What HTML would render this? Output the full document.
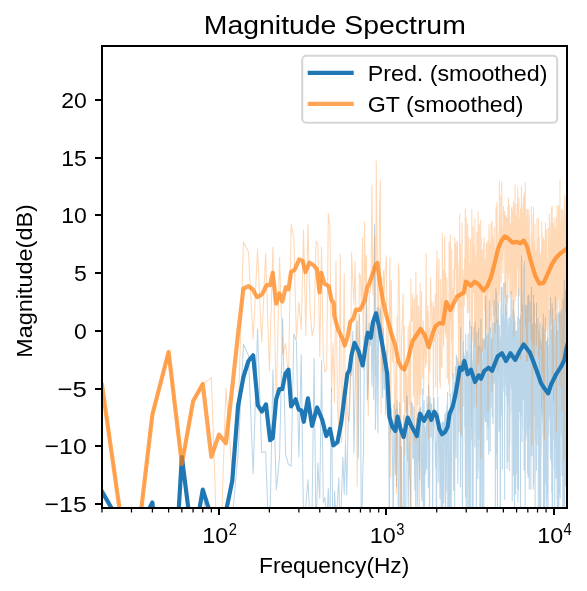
<!DOCTYPE html><html><head><meta charset="utf-8"><style>html,body{margin:0;padding:0;background:#fff;}svg{display:block;will-change:transform;}text{font-family:"Liberation Sans", sans-serif;fill:#000;}</style></head><body><svg width="587" height="591" viewBox="0 0 587 591"><rect x="0" y="0" width="587" height="591" fill="#fff"/><defs><clipPath id="ax"><rect x="102" y="46" width="465" height="462"/></clipPath></defs><g clip-path="url(#ax)"><path d="M102.00 491.50 L131.47 543.00 L152.39 502.50 L168.61 680.00 L181.86 457.00 L193.06 546.00 L202.77 489.50 L211.33 563.57 L218.99 609.94 L225.92 600.73 L232.25 518.58 L238.06 454.31 L243.45 344.20 L248.47 355.40 L253.16 473.84 L257.56 328.90 L261.72 452.57 L265.65 451.69 L269.38 554.24 L272.92 369.80 L276.31 489.92 L279.54 457.31 L282.63 318.60 L285.60 454.46 L288.45 464.32 L291.19 466.03 L293.84 334.00 L296.39 341.10 L298.85 456.97 L301.23 354.40 L303.54 526.51 L305.78 505.79 L307.95 479.75 L310.06 521.32 L312.10 509.94 L314.10 358.50 L316.03 534.63 L317.92 462.87 L319.76 498.71 L321.56 360.60 L323.31 502.67 L325.02 497.78 L326.69 523.58 L328.32 488.34 L329.92 536.25 L331.49 388.20 L333.02 556.51 L334.52 491.05 L335.98 520.38 L337.42 502.20 L338.83 477.65 L340.22 543.50 L341.58 493.38 L342.91 457.35 L344.22 494.23 L345.51 441.69 L346.77 494.67 L348.02 427.19 L349.24 408.73 L350.44 373.35 L351.62 375.46 L352.78 331.15 L353.93 452.84 L355.06 391.35 L356.17 332.88 L357.26 320.67 L358.34 457.85 L359.40 314.73 L360.44 368.94 L361.47 568.41 L362.49 484.54 L363.49 450.19 L364.48 336.08 L365.46 338.60 L366.42 298.44 L367.37 399.90 L368.31 382.31 L369.23 323.36 L370.15 345.83 L371.05 324.53 L371.94 385.90 L372.82 327.40 L373.70 399.32 L374.56 224.70 L375.41 429.60 L376.25 394.26 L377.08 307.89 L377.90 432.76 L378.71 306.53 L379.51 319.64 L380.31 308.45 L381.09 325.50 L381.87 342.79 L382.64 397.43 L383.40 328.62 L384.16 389.60 L384.90 356.94 L385.64 414.99 L386.37 351.47 L387.09 376.97 L387.81 370.43 L388.52 373.85 L389.22 540.19 L389.92 406.32 L390.60 432.43 L391.29 408.22 L391.96 420.73 L392.63 469.65 L393.30 536.63 L393.96 404.28 L394.61 450.51 L395.25 475.04 L395.89 409.09 L396.53 486.57 L397.16 400.60 L397.78 420.34 L398.40 533.46 L399.01 529.07 L399.62 402.51 L400.23 423.33 L400.82 507.58 L401.42 446.59 L402.01 538.07 L402.59 506.79 L403.17 531.05 L403.74 415.30 L404.31 433.52 L404.88 541.10 L405.44 524.66 L406.00 496.90 L406.55 395.81 L407.10 396.40 L407.64 410.86 L408.18 514.90 L408.72 467.99 L409.25 426.80 L409.78 477.41 L410.31 478.81 L410.83 550.49 L411.35 401.31 L411.86 414.02 L412.37 403.18 L412.88 457.75 L413.38 458.87 L413.88 407.12 L414.37 451.97 L414.87 489.98 L415.36 425.73 L415.84 534.36 L416.33 460.09 L416.81 418.19 L417.28 440.51 L417.76 530.56 L418.23 413.70 L418.69 461.32 L419.16 409.27 L419.62 479.25 L420.08 420.94 L420.53 407.31 L420.99 411.93 L421.44 486.57 L421.88 500.46 L422.33 445.57 L422.77 389.04 L423.21 520.34 L423.65 439.17 L424.08 400.42 L424.51 544.63 L424.94 426.77 L425.37 473.77 L425.79 453.29 L426.21 423.27 L426.63 469.27 L427.05 396.36 L427.46 430.86 L427.87 404.04 L428.28 487.19 L428.69 385.39 L429.10 414.40 L429.50 547.25 L429.90 397.08 L430.30 402.52 L430.69 406.02 L431.09 437.08 L431.48 404.12 L431.87 414.39 L432.26 410.83 L432.64 535.22 L433.03 442.58 L433.41 439.62 L433.79 408.70 L434.17 397.67 L434.54 413.68 L434.91 416.15 L435.29 449.62 L435.66 467.16 L436.02 441.33 L436.39 562.78 L436.75 449.01 L437.12 410.95 L437.48 428.88 L437.84 396.36 L438.19 482.32 L438.55 412.90 L438.90 436.16 L439.26 427.85 L439.61 460.68 L439.95 498.74 L440.30 428.59 L440.65 422.47 L440.99 448.70 L441.33 580.68 L441.67 536.11 L442.01 429.66 L442.35 421.79 L442.69 567.81 L443.02 424.58 L443.35 422.06 L443.68 502.69 L444.01 422.57 L444.34 441.92 L444.67 424.96 L444.99 413.96 L445.32 516.43 L445.64 530.91 L445.96 411.76 L446.28 491.19 L446.60 444.03 L446.91 405.28 L447.23 422.47 L447.54 392.48 L447.86 562.05 L448.17 538.94 L448.48 460.50 L448.79 414.25 L449.09 537.37 L449.40 583.38 L449.70 461.44 L450.01 449.87 L450.31 394.01 L450.61 457.51 L450.91 643.11 L451.21 504.75 L451.51 459.97 L451.80 405.06 L452.10 401.41 L452.39 391.79 L452.68 414.32 L452.98 373.61 L453.27 459.48 L453.55 490.48 L453.84 413.85 L454.13 444.13 L454.42 382.33 L454.70 511.79 L454.98 401.26 L455.27 366.33 L455.55 410.89 L455.83 423.85 L456.11 457.68 L456.38 355.16 L456.66 390.89 L456.94 357.15 L457.21 358.63 L457.48 358.72 L457.76 483.51 L458.03 459.24 L458.30 363.71 L458.57 422.47 L458.84 431.48 L459.11 361.33 L459.37 383.67 L459.64 410.55 L459.90 406.39 L460.17 413.28 L460.43 486.84 L460.69 327.44 L460.95 355.75 L461.21 436.42 L461.47 424.22 L461.73 361.30 L461.99 380.92 L462.24 494.07 L462.50 573.22 L462.75 386.50 L463.01 340.93 L463.26 362.24 L463.51 356.77 L463.76 353.25 L464.01 364.16 L464.26 374.22 L464.51 356.55 L464.76 427.07 L465.01 413.70 L465.25 444.05 L465.50 497.25 L465.74 334.42 L465.99 390.49 L466.23 601.36 L466.47 405.11 L466.71 351.17 L466.95 423.14 L467.19 424.04 L467.43 352.76 L467.67 472.70 L467.91 632.97 L468.14 333.78 L468.38 441.12 L468.61 372.95 L468.85 369.26 L469.08 439.58 L469.31 516.72 L469.54 490.90 L469.78 321.09 L470.01 393.00 L470.24 585.96 L470.46 385.18 L470.69 354.68 L470.92 374.40 L471.15 350.66 L471.37 326.27 L471.60 351.93 L471.82 426.15 L472.05 403.45 L472.27 677.55 L472.49 373.13 L472.72 364.89 L472.94 359.86 L473.16 523.52 L473.38 351.71 L473.60 357.44 L473.81 327.02 L474.03 407.27 L474.25 370.62 L474.47 338.33 L474.68 421.88 L474.90 447.02 L475.11 322.07 L475.33 355.60 L475.54 365.81 L475.75 372.43 L475.97 374.20 L476.18 393.48 L476.39 563.07 L476.60 386.44 L476.81 356.28 L477.02 332.22 L477.23 436.83 L477.43 439.01 L477.64 363.66 L477.85 478.46 L478.05 347.18 L478.26 470.79 L478.47 383.64 L478.67 328.14 L478.87 413.76 L479.08 438.97 L479.28 359.83 L479.48 345.70 L479.68 366.60 L479.88 531.77 L480.09 408.91 L480.29 571.70 L480.48 350.27 L480.68 513.51 L480.88 319.12 L481.08 381.67 L481.28 427.40 L481.47 346.47 L481.67 367.96 L481.87 360.51 L482.06 540.16 L482.26 368.01 L482.45 617.89 L482.64 443.65 L482.84 339.09 L483.03 347.53 L483.22 389.40 L483.41 450.21 L483.60 345.99 L483.79 508.27 L483.98 339.72 L484.17 347.29 L484.36 416.79 L484.55 345.26 L484.74 369.34 L484.93 337.87 L485.11 380.50 L485.30 421.47 L485.49 312.14 L485.67 296.79 L485.86 323.49 L486.04 421.58 L486.23 331.89 L486.41 370.22 L486.59 387.99 L486.78 336.10 L486.96 418.40 L487.14 439.88 L487.32 405.95 L487.50 355.73 L487.68 347.70 L487.86 426.20 L488.04 345.97 L488.22 333.71 L488.40 425.74 L488.58 361.87 L488.76 454.47 L488.94 391.17 L489.11 343.04 L489.29 300.63 L489.47 340.00 L489.64 405.90 L489.82 349.48 L489.99 391.15 L490.17 451.23 L490.34 332.58 L490.51 328.10 L490.69 347.67 L490.86 407.25 L491.03 371.51 L491.20 346.13 L491.38 383.09 L491.55 350.31 L491.72 338.78 L491.89 385.63 L492.06 348.34 L492.23 416.61 L492.40 355.09 L492.57 370.15 L492.74 323.28 L492.90 411.91 L493.07 423.86 L493.24 357.07 L493.40 377.14 L493.57 328.11 L493.74 352.87 L493.90 383.51 L494.07 300.08 L494.23 381.21 L494.40 351.19 L494.56 334.56 L494.73 338.95 L494.89 322.87 L495.05 371.68 L495.22 340.76 L495.38 515.03 L495.54 332.71 L495.70 388.14 L495.86 288.15 L496.02 469.06 L496.19 306.01 L496.35 292.38 L496.51 376.88 L496.67 415.55 L496.82 402.24 L496.98 453.74 L497.14 415.15 L497.30 405.03 L497.46 522.07 L497.62 319.69 L497.77 367.06 L497.93 368.51 L498.09 358.00 L498.24 302.85 L498.40 322.69 L498.55 376.23 L498.71 355.85 L498.86 405.75 L499.02 431.23 L499.17 403.83 L499.33 325.72 L499.48 365.51 L499.63 430.57 L499.79 398.19 L499.94 362.22 L500.09 337.17 L500.24 522.68 L500.39 557.14 L500.55 473.33 L500.70 355.35 L500.85 416.03 L501.00 307.96 L501.15 322.01 L501.30 409.00 L501.45 287.05 L501.60 413.28 L501.74 355.13 L501.89 315.29 L502.04 347.69 L502.19 424.05 L502.34 432.71 L502.48 468.95 L502.63 370.47 L502.78 327.75 L502.92 287.45 L503.07 333.49 L503.22 351.21 L503.36 283.18 L503.51 348.45 L503.65 316.94 L503.80 376.81 L503.94 391.10 L504.08 343.81 L504.23 381.19 L504.37 320.34 L504.52 338.21 L504.66 499.43 L504.80 330.90 L504.94 282.84 L505.09 352.51 L505.23 304.09 L505.37 367.97 L505.51 305.16 L505.65 352.64 L505.79 372.86 L505.93 384.95 L506.07 312.21 L506.21 396.03 L506.35 329.91 L506.49 314.25 L506.63 350.18 L506.77 331.37 L506.91 294.95 L507.05 468.56 L507.18 435.68 L507.32 422.89 L507.46 336.09 L507.60 349.80 L507.73 341.64 L507.87 461.97 L508.01 362.38 L508.14 318.79 L508.28 337.31 L508.42 335.62 L508.55 403.59 L508.69 370.32 L508.82 369.03 L508.96 381.27 L509.09 325.91 L509.22 351.20 L509.36 470.56 L509.49 345.36 L509.63 317.22 L509.76 443.90 L509.89 354.58 L510.02 416.35 L510.16 318.13 L510.29 334.42 L510.42 380.94 L510.55 349.82 L510.68 314.87 L510.82 384.32 L510.95 301.09 L511.08 291.08 L511.21 335.79 L511.34 389.08 L511.47 373.65 L511.60 319.39 L511.73 337.13 L511.86 413.29 L511.99 389.05 L512.12 445.84 L512.25 500.78 L512.37 401.52 L512.50 366.17 L512.63 370.52 L512.76 320.62 L512.89 310.24 L513.01 308.91 L513.14 403.07 L513.27 300.05 L513.39 344.75 L513.52 475.12 L513.65 399.73 L513.77 360.33 L513.90 343.78 L514.02 311.61 L514.15 343.85 L514.28 496.64 L514.40 316.03 L514.53 520.25 L514.65 412.74 L514.77 354.30 L514.90 472.89 L515.02 321.57 L515.15 406.30 L515.27 382.10 L515.39 372.92 L515.52 398.89 L515.64 494.35 L515.76 427.54 L515.88 416.12 L516.01 331.37 L516.13 432.29 L516.25 473.57 L516.37 420.22 L516.49 368.10 L516.61 330.67 L516.74 395.28 L516.86 354.10 L516.98 384.04 L517.10 428.43 L517.22 377.32 L517.34 360.40 L517.46 487.97 L517.58 388.92 L517.70 317.17 L517.82 417.21 L517.93 501.88 L518.05 447.47 L518.17 405.43 L518.29 421.09 L518.41 287.80 L518.53 489.44 L518.65 452.05 L518.76 341.51 L518.88 351.58 L519.00 361.05 L519.12 389.67 L519.23 411.42 L519.35 354.57 L519.47 405.09 L519.58 319.08 L519.70 342.41 L519.81 382.44 L519.93 360.61 L520.05 337.15 L520.16 319.44 L520.28 419.16 L520.39 401.83 L520.51 450.41 L520.62 547.20 L520.74 314.75 L520.85 327.86 L520.96 354.47 L521.08 329.11 L521.19 321.80 L521.31 415.84 L521.42 301.25 L521.53 255.93 L521.65 307.05 L521.76 311.90 L521.87 414.67 L521.98 291.86 L522.10 441.24 L522.21 358.01 L522.32 428.22 L522.43 320.06 L522.54 359.52 L522.66 373.33 L522.77 356.74 L522.88 304.96 L522.99 346.58 L523.10 399.06 L523.21 374.09 L523.32 385.87 L523.43 310.04 L523.54 318.68 L523.65 321.26 L523.76 338.40 L523.87 265.77 L523.98 349.21 L524.09 470.14 L524.20 351.40 L524.31 325.79 L524.42 261.50 L524.53 440.66 L524.64 336.93 L524.74 329.09 L524.85 386.43 L524.96 419.24 L525.07 363.93 L525.18 517.26 L525.28 453.86 L525.39 318.58 L525.50 305.06 L525.61 308.40 L525.71 323.36 L525.82 440.03 L525.93 318.11 L526.03 432.55 L526.14 333.01 L526.25 386.48 L526.35 347.83 L526.46 417.09 L526.56 385.43 L526.67 323.30 L526.77 348.60 L526.88 305.44 L526.98 391.28 L527.09 350.86 L527.19 435.06 L527.30 370.60 L527.40 305.62 L527.51 307.30 L527.61 473.53 L527.72 344.66 L527.82 296.04 L527.92 332.72 L528.03 315.05 L528.13 477.32 L528.23 360.38 L528.34 295.96 L528.44 392.44 L528.54 434.12 L528.65 351.26 L528.75 373.23 L528.85 412.18 L528.95 384.12 L529.06 324.53 L529.16 294.44 L529.26 488.93 L529.36 367.88 L529.46 370.12 L529.56 344.21 L529.67 324.42 L529.77 361.53 L529.87 311.39 L529.97 426.73 L530.07 322.44 L530.17 302.00 L530.27 306.46 L530.37 424.39 L530.47 331.58 L530.57 367.41 L530.67 457.60 L530.77 335.39 L530.87 489.25 L530.97 418.80 L531.07 408.11 L531.17 317.32 L531.27 334.30 L531.37 333.61 L531.47 286.75 L531.56 449.52 L531.66 355.64 L531.76 452.57 L531.86 322.72 L531.96 455.51 L532.06 418.25 L532.15 369.22 L532.25 339.05 L532.35 370.81 L532.45 367.20 L532.54 325.03 L532.64 395.04 L532.74 342.16 L532.83 397.75 L532.93 408.14 L533.03 368.06 L533.13 390.24 L533.22 415.54 L533.32 488.88 L533.41 295.06 L533.51 352.51 L533.61 358.09 L533.70 483.43 L533.80 302.36 L533.89 408.71 L533.99 361.52 L534.08 362.51 L534.18 311.87 L534.27 378.27 L534.37 303.97 L534.46 376.47 L534.56 322.69 L534.65 416.26 L534.75 339.87 L534.84 338.71 L534.94 379.62 L535.03 366.76 L535.12 514.35 L535.22 325.58 L535.31 353.98 L535.41 383.51 L535.50 393.99 L535.59 324.12 L535.69 428.73 L535.78 403.61 L535.87 416.14 L535.96 392.77 L536.06 428.39 L536.15 439.75 L536.24 322.27 L536.34 346.55 L536.43 470.35 L536.52 303.03 L536.61 341.77 L536.70 324.55 L536.80 360.52 L536.89 391.79 L536.98 401.14 L537.07 376.82 L537.16 373.27 L537.25 388.37 L537.34 343.33 L537.44 363.76 L537.53 428.88 L537.62 406.56 L537.71 444.56 L537.80 378.29 L537.89 318.36 L537.98 359.93 L538.07 419.41 L538.16 410.49 L538.25 415.02 L538.34 541.51 L538.43 332.16 L538.52 331.94 L538.61 389.20 L538.70 423.05 L538.79 423.74 L538.88 367.52 L538.97 412.25 L539.05 345.75 L539.14 351.58 L539.23 340.91 L539.32 352.64 L539.41 398.64 L539.50 446.70 L539.59 569.28 L539.67 345.09 L539.76 378.96 L539.85 326.63 L539.94 343.13 L540.03 323.07 L540.11 336.75 L540.20 516.65 L540.29 449.54 L540.38 396.55 L540.46 369.59 L540.55 338.90 L540.64 423.48 L540.73 687.63 L540.81 341.99 L540.90 386.10 L540.99 456.74 L541.07 355.75 L541.16 449.08 L541.25 420.79 L541.33 419.62 L541.42 363.20 L541.50 373.90 L541.59 358.19 L541.68 343.77 L541.76 368.40 L541.85 402.12 L541.93 368.30 L542.02 342.81 L542.10 415.50 L542.19 388.10 L542.27 327.41 L542.36 335.09 L542.44 391.07 L542.53 374.32 L542.61 422.07 L542.70 392.00 L542.78 324.74 L542.87 352.02 L542.95 435.65 L543.04 331.92 L543.12 374.74 L543.20 409.76 L543.29 313.70 L543.37 425.65 L543.46 502.63 L543.54 606.12 L543.62 386.14 L543.71 328.05 L543.79 346.22 L543.87 474.61 L543.96 330.10 L544.04 352.75 L544.12 366.71 L544.21 368.27 L544.29 438.52 L544.37 387.00 L544.45 626.33 L544.54 540.56 L544.62 351.75 L544.70 547.25 L544.78 354.31 L544.87 397.24 L544.95 368.27 L545.03 447.36 L545.11 429.43 L545.19 483.73 L545.28 378.16 L545.36 317.45 L545.44 366.95 L545.52 341.86 L545.60 450.92 L545.68 403.71 L545.76 464.38 L545.85 373.67 L545.93 360.72 L546.01 431.33 L546.09 377.31 L546.17 472.31 L546.25 413.36 L546.33 500.77 L546.41 388.59 L546.49 341.48 L546.57 374.54 L546.65 483.50 L546.73 509.39 L546.81 370.16 L546.89 350.82 L546.97 442.14 L547.05 460.53 L547.13 482.93 L547.21 364.52 L547.29 386.74 L547.37 493.41 L547.45 371.47 L547.53 469.47 L547.61 337.78 L547.69 445.41 L547.76 399.90 L547.84 390.42 L547.92 392.69 L548.00 548.59 L548.08 428.92 L548.16 417.02 L548.24 367.67 L548.32 435.51 L548.39 405.87 L548.47 385.15 L548.55 395.88 L548.63 371.42 L548.71 419.96 L548.78 345.30 L548.86 402.19 L548.94 373.69 L549.02 369.08 L549.09 351.55 L549.17 379.26 L549.25 380.22 L549.33 310.63 L549.40 351.02 L549.48 382.96 L549.56 393.46 L549.63 393.64 L549.71 363.13 L549.79 416.55 L549.87 368.88 L549.94 359.17 L550.02 356.40 L550.09 433.69 L550.17 339.34 L550.25 328.05 L550.32 340.93 L550.40 450.54 L550.48 297.64 L550.55 426.59 L550.63 459.08 L550.70 419.60 L550.78 368.31 L550.86 422.48 L550.93 367.79 L551.01 396.09 L551.08 347.63 L551.16 365.92 L551.23 345.42 L551.31 432.52 L551.38 462.73 L551.46 379.00 L551.53 329.73 L551.61 350.78 L551.68 339.23 L551.76 492.24 L551.83 366.12 L551.91 401.13 L551.98 325.24 L552.06 303.24 L552.13 459.97 L552.20 557.94 L552.28 355.86 L552.35 361.85 L552.43 340.00 L552.50 377.62 L552.57 309.13 L552.65 620.76 L552.72 528.34 L552.80 364.03 L552.87 368.39 L552.94 378.54 L553.02 353.97 L553.09 382.98 L553.16 343.23 L553.24 394.75 L553.31 400.89 L553.38 392.99 L553.46 367.50 L553.53 415.01 L553.60 400.77 L553.67 404.74 L553.75 380.18 L553.82 327.32 L553.89 380.09 L553.96 439.56 L554.04 349.30 L554.11 319.68 L554.18 376.49 L554.25 351.80 L554.33 376.68 L554.40 469.88 L554.47 459.79 L554.54 356.38 L554.61 385.32 L554.69 421.05 L554.76 520.64 L554.83 364.89 L554.90 437.45 L554.97 356.31 L555.04 409.50 L555.12 445.23 L555.19 411.60 L555.26 296.73 L555.33 428.09 L555.40 412.75 L555.47 353.44 L555.54 335.88 L555.61 384.64 L555.68 342.45 L555.75 384.02 L555.82 397.65 L555.90 364.76 L555.97 386.64 L556.04 478.31 L556.11 404.23 L556.18 449.03 L556.25 417.29 L556.32 381.52 L556.39 394.19 L556.46 352.36 L556.53 323.82 L556.60 356.64 L556.67 348.41 L556.74 354.23 L556.81 386.45 L556.88 315.04 L556.95 342.12 L557.02 437.06 L557.09 439.80 L557.15 499.37 L557.22 353.06 L557.29 330.40 L557.36 697.20 L557.43 348.61 L557.50 335.38 L557.57 506.29 L557.64 418.79 L557.71 478.24 L557.78 369.07 L557.85 382.57 L557.91 367.20 L557.98 438.34 L558.05 460.48 L558.12 331.13 L558.19 512.32 L558.26 437.63 L558.32 454.13 L558.39 700.00 L558.46 372.80 L558.53 385.24 L558.60 368.41 L558.67 312.38 L558.73 335.89 L558.80 378.62 L558.87 575.30 L558.94 405.17 L559.00 333.00 L559.07 370.99 L559.14 368.54 L559.21 411.58 L559.27 378.67 L559.34 493.52 L559.41 426.00 L559.48 346.15 L559.54 392.27 L559.61 313.82 L559.68 350.74 L559.74 372.06 L559.81 360.83 L559.88 442.51 L559.94 406.03 L560.01 392.93 L560.08 383.76 L560.14 325.12 L560.21 498.18 L560.28 396.13 L560.34 358.07 L560.41 419.32 L560.48 313.49 L560.54 378.42 L560.61 332.15 L560.68 377.62 L560.74 341.47 L560.81 310.74 L560.87 371.25 L560.94 387.77 L561.00 358.99 L561.07 360.77 L561.14 398.99 L561.20 325.96 L561.27 332.51 L561.33 385.40 L561.40 435.59 L561.46 391.25 L561.53 308.56 L561.59 318.45 L561.66 366.27 L561.72 382.41 L561.79 344.04 L561.85 332.71 L561.92 475.32 L561.98 331.00 L562.05 362.06 L562.11 344.83 L562.18 421.08 L562.24 465.11 L562.31 395.53 L562.37 365.25 L562.44 336.89 L562.50 334.02 L562.57 363.50 L562.63 324.97 L562.70 330.12 L562.76 410.06 L562.82 520.82 L562.89 299.26 L562.95 303.41 L563.02 308.24 L563.08 332.83 L563.14 322.02 L563.21 386.34 L563.27 308.54 L563.34 344.10 L563.40 323.65 L563.46 328.00 L563.53 444.29 L563.59 431.37 L563.65 323.65 L563.72 366.41 L563.78 337.06 L563.84 369.69 L563.91 323.80 L563.97 519.08 L564.03 300.38 L564.10 348.80 L564.16 319.66 L564.22 295.56 L564.28 280.03 L564.35 402.77 L564.41 428.10 L564.47 337.31 L564.54 334.86 L564.60 476.03 L564.66 595.82 L564.72 388.28 L564.79 334.48 L564.85 485.24 L564.91 316.92 L564.97 372.85 L565.04 331.38 L565.10 337.37 L565.16 370.81 L565.22 380.78 L565.28 364.98 L565.35 347.61 L565.41 290.32 L565.47 297.36 L565.53 359.37 L565.59 399.85 L565.65 470.12 L565.72 387.85 L565.78 328.86 L565.84 485.95 L565.90 363.22 L565.96 428.46 L566.02 374.48 L566.09 384.19 L566.15 335.38 L566.21 387.40 L566.27 308.78 L566.33 429.61 L566.39 458.48 L566.45 390.20 L566.51 438.06 L566.57 326.33 L566.64 268.29 L566.70 378.90 L566.76 310.14 L566.82 410.15 L566.88 299.78 L566.94 323.22 L567.00 330.31" fill="none" stroke="#1f77b4" stroke-opacity="0.3" stroke-width="1.04" stroke-linejoin="round" stroke-linecap="square"/>
<path d="M102.00 385.00 L131.47 593.00 L152.39 414.50 L168.61 352.00 L181.86 464.00 L193.06 401.30 L202.77 384.00 L211.33 377.60 L218.99 600.00 L225.92 388.30 L232.25 476.08 L238.06 418.60 L243.45 241.90 L248.47 252.10 L253.16 339.12 L257.56 249.10 L261.72 342.47 L265.65 253.20 L269.38 370.93 L272.92 247.00 L276.31 402.99 L279.54 257.30 L282.63 354.27 L285.60 343.29 L288.45 379.42 L291.19 224.10 L293.84 237.80 L296.39 338.73 L298.85 302.20 L301.23 329.38 L303.54 229.70 L305.78 335.77 L307.95 224.50 L310.06 307.56 L312.10 336.14 L314.10 326.91 L316.03 240.90 L317.92 244.00 L319.76 356.52 L321.56 247.00 L323.31 357.45 L325.02 371.90 L326.69 368.78 L328.32 213.30 L329.92 226.60 L331.49 391.77 L333.02 343.39 L334.52 402.52 L335.98 261.30 L337.42 404.83 L338.83 430.68 L340.22 254.20 L341.58 442.38 L342.91 381.15 L344.22 273.60 L345.51 441.32 L346.77 397.02 L348.02 418.47 L349.24 421.13 L350.44 384.99 L351.62 252.85 L352.78 280.27 L353.93 304.95 L355.06 261.45 L356.17 329.28 L357.26 486.37 L358.34 368.89 L359.40 272.79 L360.44 276.42 L361.47 312.14 L362.49 237.56 L363.49 369.92 L364.48 221.80 L365.46 287.50 L366.42 255.45 L367.37 374.71 L368.31 415.55 L369.23 291.16 L370.15 292.99 L371.05 280.25 L371.94 185.02 L372.82 294.98 L373.70 275.04 L374.56 235.66 L375.41 375.13 L376.25 161.00 L377.08 247.17 L377.90 320.53 L378.71 300.81 L379.51 210.70 L380.31 180.00 L381.09 413.16 L381.87 277.95 L382.64 370.38 L383.40 270.52 L384.16 294.72 L384.90 273.32 L385.64 266.70 L386.37 255.64 L387.09 386.74 L387.81 357.34 L388.52 319.28 L389.22 311.91 L389.92 257.21 L390.60 477.21 L391.29 280.24 L391.96 335.14 L392.63 362.03 L393.30 339.21 L393.96 365.13 L394.61 409.26 L395.25 428.69 L395.89 361.44 L396.53 493.73 L397.16 316.38 L397.78 342.60 L398.40 263.57 L399.01 272.00 L399.62 308.55 L400.23 407.98 L400.82 532.96 L401.42 340.07 L402.01 326.69 L402.59 310.11 L403.17 293.85 L403.74 402.07 L404.31 325.94 L404.88 454.18 L405.44 364.17 L406.00 410.74 L406.55 373.02 L407.10 404.06 L407.64 460.98 L408.18 325.96 L408.72 366.22 L409.25 404.86 L409.78 322.12 L410.31 548.00 L410.83 279.02 L411.35 318.97 L411.86 321.24 L412.37 309.55 L412.88 293.50 L413.38 396.48 L413.88 359.56 L414.37 298.81 L414.87 441.70 L415.36 390.38 L415.84 271.78 L416.33 315.44 L416.81 440.54 L417.28 295.29 L417.76 404.99 L418.23 390.39 L418.69 306.09 L419.16 353.74 L419.62 541.66 L420.08 283.23 L420.53 372.72 L420.99 394.46 L421.44 291.75 L421.88 335.27 L422.33 340.40 L422.77 378.32 L423.21 320.70 L423.65 394.32 L424.08 346.46 L424.51 355.84 L424.94 332.37 L425.37 367.17 L425.79 302.21 L426.21 253.21 L426.63 362.98 L427.05 311.77 L427.46 338.58 L427.87 305.67 L428.28 317.97 L428.69 438.54 L429.10 328.08 L429.50 338.00 L429.90 371.33 L430.30 301.39 L430.69 277.50 L431.09 306.30 L431.48 301.90 L431.87 332.69 L432.26 339.21 L432.64 322.82 L433.03 301.99 L433.41 425.66 L433.79 306.67 L434.17 310.39 L434.54 341.55 L434.91 321.45 L435.29 294.33 L435.66 386.91 L436.02 323.42 L436.39 282.31 L436.75 264.47 L437.12 250.70 L437.48 394.64 L437.84 317.93 L438.19 333.83 L438.55 281.49 L438.90 259.02 L439.26 324.52 L439.61 382.38 L439.95 331.52 L440.30 387.85 L440.65 279.12 L440.99 366.50 L441.33 312.42 L441.67 298.45 L442.01 367.82 L442.35 233.12 L442.69 304.04 L443.02 270.61 L443.35 339.88 L443.68 347.00 L444.01 268.96 L444.34 276.00 L444.67 236.36 L444.99 326.46 L445.32 333.21 L445.64 273.18 L445.96 332.95 L446.28 337.43 L446.60 319.12 L446.91 277.67 L447.23 378.38 L447.54 303.63 L447.86 314.97 L448.17 304.32 L448.48 384.03 L448.79 353.15 L449.09 242.14 L449.40 249.31 L449.70 395.57 L450.01 293.49 L450.31 234.46 L450.61 278.26 L450.91 320.74 L451.21 311.67 L451.51 342.07 L451.80 249.17 L452.10 375.00 L452.39 299.70 L452.68 290.71 L452.98 378.98 L453.27 288.63 L453.55 311.71 L453.84 270.07 L454.13 311.04 L454.42 287.26 L454.70 237.39 L454.98 268.52 L455.27 252.66 L455.55 243.32 L455.83 259.79 L456.11 279.06 L456.38 297.03 L456.66 255.37 L456.94 241.19 L457.21 295.94 L457.48 242.58 L457.76 305.17 L458.03 302.55 L458.30 324.82 L458.57 373.26 L458.84 279.21 L459.11 261.73 L459.37 322.91 L459.64 214.47 L459.90 322.56 L460.17 372.11 L460.43 244.01 L460.69 433.44 L460.95 306.01 L461.21 313.75 L461.47 302.10 L461.73 339.58 L461.99 222.84 L462.24 270.93 L462.50 288.31 L462.75 306.92 L463.01 269.81 L463.26 406.33 L463.51 291.99 L463.76 276.48 L464.01 305.08 L464.26 305.60 L464.51 258.05 L464.76 294.69 L465.01 258.74 L465.25 208.98 L465.50 274.27 L465.74 289.60 L465.99 250.92 L466.23 217.96 L466.47 243.44 L466.71 297.27 L466.95 247.18 L467.19 260.18 L467.43 312.67 L467.67 224.00 L467.91 251.45 L468.14 285.94 L468.38 237.51 L468.61 294.56 L468.85 312.38 L469.08 289.64 L469.31 284.19 L469.54 264.93 L469.78 327.24 L470.01 249.23 L470.24 238.67 L470.46 240.36 L470.69 286.29 L470.92 264.53 L471.15 276.04 L471.37 290.33 L471.60 440.24 L471.82 209.70 L472.05 258.03 L472.27 341.95 L472.49 333.14 L472.72 290.79 L472.94 273.34 L473.16 226.87 L473.38 289.42 L473.60 292.44 L473.81 291.65 L474.03 266.35 L474.25 251.59 L474.47 243.67 L474.68 337.99 L474.90 218.52 L475.11 346.40 L475.33 331.98 L475.54 255.33 L475.75 277.21 L475.97 345.40 L476.18 320.59 L476.39 406.77 L476.60 364.49 L476.81 232.11 L477.02 253.65 L477.23 362.63 L477.43 302.77 L477.64 258.02 L477.85 278.94 L478.05 211.76 L478.26 240.87 L478.47 310.46 L478.67 364.65 L478.87 282.11 L479.08 253.61 L479.28 224.14 L479.48 255.98 L479.68 257.87 L479.88 352.37 L480.09 271.66 L480.29 303.74 L480.48 296.38 L480.68 220.03 L480.88 289.96 L481.08 458.57 L481.28 238.32 L481.47 286.45 L481.67 308.52 L481.87 268.11 L482.06 341.10 L482.26 249.65 L482.45 351.13 L482.64 349.25 L482.84 256.83 L483.03 260.38 L483.22 273.38 L483.41 285.01 L483.60 242.88 L483.79 249.73 L483.98 290.75 L484.17 237.60 L484.36 272.56 L484.55 310.58 L484.74 277.08 L484.93 263.73 L485.11 295.98 L485.30 347.76 L485.49 258.83 L485.67 320.59 L485.86 282.94 L486.04 293.58 L486.23 243.52 L486.41 300.11 L486.59 329.67 L486.78 318.75 L486.96 277.21 L487.14 241.55 L487.32 264.96 L487.50 302.78 L487.68 371.38 L487.86 310.99 L488.04 410.17 L488.22 281.85 L488.40 239.93 L488.58 273.20 L488.76 290.88 L488.94 224.53 L489.11 231.74 L489.29 247.51 L489.47 247.12 L489.64 258.79 L489.82 257.61 L489.99 331.85 L490.17 258.69 L490.34 243.72 L490.51 299.83 L490.69 320.35 L490.86 276.45 L491.03 223.25 L491.20 287.00 L491.38 294.96 L491.55 248.43 L491.72 278.95 L491.89 391.54 L492.06 220.96 L492.23 247.70 L492.40 259.77 L492.57 305.06 L492.74 241.02 L492.90 236.47 L493.07 241.42 L493.24 293.60 L493.40 291.51 L493.57 315.61 L493.74 242.54 L493.90 278.64 L494.07 280.24 L494.23 227.58 L494.40 277.43 L494.56 283.19 L494.73 247.83 L494.89 326.10 L495.05 332.64 L495.22 266.42 L495.38 282.37 L495.54 249.49 L495.70 310.74 L495.86 253.38 L496.02 207.35 L496.19 243.72 L496.35 239.13 L496.51 322.85 L496.67 287.29 L496.82 207.87 L496.98 202.79 L497.14 219.58 L497.30 230.14 L497.46 260.85 L497.62 260.21 L497.77 370.98 L497.93 261.17 L498.09 276.19 L498.24 301.88 L498.40 277.17 L498.55 259.35 L498.71 260.48 L498.86 233.38 L499.02 259.23 L499.17 293.96 L499.33 180.94 L499.48 281.29 L499.63 214.47 L499.79 227.08 L499.94 302.36 L500.09 249.55 L500.24 219.96 L500.39 222.71 L500.55 233.21 L500.70 269.48 L500.85 195.50 L501.00 255.21 L501.15 236.71 L501.30 281.64 L501.45 209.66 L501.60 218.19 L501.74 182.26 L501.89 235.35 L502.04 229.44 L502.19 259.34 L502.34 230.56 L502.48 228.40 L502.63 243.41 L502.78 242.50 L502.92 273.02 L503.07 247.81 L503.22 255.75 L503.36 207.85 L503.51 206.46 L503.65 250.08 L503.80 234.17 L503.94 213.47 L504.08 237.39 L504.23 237.73 L504.37 221.31 L504.52 211.27 L504.66 213.59 L504.80 293.13 L504.94 261.37 L505.09 297.54 L505.23 257.18 L505.37 246.12 L505.51 214.97 L505.65 215.68 L505.79 245.38 L505.93 315.03 L506.07 229.13 L506.21 236.13 L506.35 217.27 L506.49 252.48 L506.63 225.26 L506.77 217.83 L506.91 223.23 L507.05 271.06 L507.18 245.22 L507.32 301.61 L507.46 253.24 L507.60 235.96 L507.73 276.38 L507.87 206.69 L508.01 275.55 L508.14 238.21 L508.28 231.58 L508.42 278.08 L508.55 198.18 L508.69 232.49 L508.82 237.32 L508.96 266.54 L509.09 297.98 L509.22 204.59 L509.36 215.57 L509.49 253.38 L509.63 227.01 L509.76 249.33 L509.89 244.15 L510.02 272.30 L510.16 224.10 L510.29 241.26 L510.42 252.47 L510.55 293.00 L510.68 250.10 L510.82 294.66 L510.95 278.16 L511.08 231.61 L511.21 216.34 L511.34 237.46 L511.47 207.93 L511.60 241.29 L511.73 223.86 L511.86 207.51 L511.99 234.91 L512.12 317.83 L512.25 213.93 L512.37 225.58 L512.50 225.39 L512.63 210.94 L512.76 255.60 L512.89 248.14 L513.01 285.15 L513.14 275.56 L513.27 297.45 L513.39 201.60 L513.52 210.25 L513.65 218.52 L513.77 206.56 L513.90 336.68 L514.02 254.02 L514.15 234.92 L514.28 251.27 L514.40 285.57 L514.53 244.11 L514.65 204.53 L514.77 281.93 L514.90 292.80 L515.02 184.84 L515.15 208.46 L515.27 301.21 L515.39 238.45 L515.52 225.75 L515.64 216.73 L515.76 215.91 L515.88 278.72 L516.01 218.59 L516.13 286.91 L516.25 230.61 L516.37 295.47 L516.49 226.72 L516.61 241.25 L516.74 217.96 L516.86 223.36 L516.98 203.63 L517.10 203.68 L517.22 226.09 L517.34 267.11 L517.46 248.07 L517.58 252.41 L517.70 187.38 L517.82 229.91 L517.93 246.87 L518.05 284.43 L518.17 211.38 L518.29 287.40 L518.41 237.56 L518.53 279.07 L518.65 209.53 L518.76 276.38 L518.88 198.08 L519.00 292.38 L519.12 290.09 L519.23 296.01 L519.35 224.92 L519.47 269.38 L519.58 218.24 L519.70 239.25 L519.81 223.26 L519.93 239.08 L520.05 243.28 L520.16 218.72 L520.28 234.79 L520.39 217.53 L520.51 208.47 L520.62 358.99 L520.74 220.45 L520.85 211.24 L520.96 217.58 L521.08 267.96 L521.19 287.04 L521.31 272.69 L521.42 186.49 L521.53 240.78 L521.65 311.45 L521.76 213.62 L521.87 208.42 L521.98 205.08 L522.10 219.75 L522.21 230.85 L522.32 261.92 L522.43 212.67 L522.54 342.85 L522.66 223.86 L522.77 316.62 L522.88 250.06 L522.99 283.12 L523.10 304.15 L523.21 251.07 L523.32 256.99 L523.43 196.50 L523.54 217.83 L523.65 213.19 L523.76 232.99 L523.87 241.43 L523.98 233.16 L524.09 235.99 L524.20 192.16 L524.31 224.30 L524.42 217.30 L524.53 220.53 L524.64 264.22 L524.74 236.35 L524.85 207.87 L524.96 198.15 L525.07 304.21 L525.18 210.82 L525.28 182.63 L525.39 325.97 L525.50 232.20 L525.61 233.73 L525.71 219.93 L525.82 284.66 L525.93 285.74 L526.03 209.27 L526.14 267.96 L526.25 220.93 L526.35 281.41 L526.46 239.33 L526.56 361.15 L526.67 279.22 L526.77 230.56 L526.88 236.41 L526.98 257.09 L527.09 217.94 L527.19 226.17 L527.30 234.92 L527.40 209.55 L527.51 215.54 L527.61 361.01 L527.72 272.07 L527.82 234.70 L527.92 270.38 L528.03 223.68 L528.13 256.17 L528.23 249.18 L528.34 223.35 L528.44 224.62 L528.54 305.31 L528.65 274.55 L528.75 209.47 L528.85 234.79 L528.95 264.26 L529.06 230.62 L529.16 321.82 L529.26 215.59 L529.36 280.26 L529.46 256.69 L529.56 263.44 L529.67 244.21 L529.77 235.78 L529.87 283.41 L529.97 247.85 L530.07 252.39 L530.17 257.93 L530.27 289.12 L530.37 252.03 L530.47 257.58 L530.57 303.24 L530.67 265.59 L530.77 324.25 L530.87 267.53 L530.97 316.51 L531.07 333.07 L531.17 340.18 L531.27 269.96 L531.37 206.74 L531.47 326.78 L531.56 244.10 L531.66 273.83 L531.76 296.24 L531.86 240.17 L531.96 259.02 L532.06 241.77 L532.15 444.71 L532.25 244.83 L532.35 303.05 L532.45 281.11 L532.54 253.34 L532.64 232.84 L532.74 314.35 L532.83 344.18 L532.93 223.13 L533.03 230.95 L533.13 214.80 L533.22 237.83 L533.32 279.50 L533.41 253.21 L533.51 207.09 L533.61 280.93 L533.70 317.07 L533.80 342.32 L533.89 283.33 L533.99 272.93 L534.08 312.13 L534.18 367.36 L534.27 244.82 L534.37 242.36 L534.46 321.84 L534.56 247.33 L534.65 345.15 L534.75 296.88 L534.84 280.37 L534.94 270.77 L535.03 224.29 L535.12 275.59 L535.22 257.68 L535.31 296.16 L535.41 273.80 L535.50 256.62 L535.59 271.51 L535.69 275.52 L535.78 250.84 L535.87 265.20 L535.96 317.59 L536.06 283.95 L536.15 261.78 L536.24 275.54 L536.34 328.46 L536.43 280.79 L536.52 345.41 L536.61 284.84 L536.70 249.37 L536.80 274.50 L536.89 286.60 L536.98 217.99 L537.07 248.99 L537.16 253.10 L537.25 267.77 L537.34 247.02 L537.44 265.85 L537.53 281.25 L537.62 309.02 L537.71 263.57 L537.80 333.58 L537.89 261.08 L537.98 302.85 L538.07 304.08 L538.16 274.41 L538.25 238.14 L538.34 340.61 L538.43 267.58 L538.52 357.25 L538.61 219.28 L538.70 260.65 L538.79 266.20 L538.88 290.22 L538.97 309.30 L539.05 275.57 L539.14 347.18 L539.23 283.83 L539.32 236.34 L539.41 295.27 L539.50 379.02 L539.59 294.40 L539.67 260.62 L539.76 255.74 L539.85 252.43 L539.94 336.94 L540.03 348.97 L540.11 290.76 L540.20 288.00 L540.29 298.52 L540.38 277.49 L540.46 269.84 L540.55 260.48 L540.64 314.10 L540.73 302.21 L540.81 316.90 L540.90 255.70 L540.99 318.07 L541.07 312.36 L541.16 253.91 L541.25 309.77 L541.33 256.94 L541.42 249.32 L541.50 328.71 L541.59 260.89 L541.68 409.65 L541.76 222.24 L541.85 281.50 L541.93 292.39 L542.02 310.94 L542.10 271.31 L542.19 268.36 L542.27 234.32 L542.36 340.60 L542.44 367.62 L542.53 281.38 L542.61 285.85 L542.70 297.58 L542.78 371.38 L542.87 281.47 L542.95 237.53 L543.04 251.62 L543.12 314.36 L543.20 267.31 L543.29 303.85 L543.37 238.37 L543.46 399.99 L543.54 249.08 L543.62 261.07 L543.71 273.94 L543.79 343.33 L543.87 255.37 L543.96 414.03 L544.04 282.66 L544.12 289.84 L544.21 240.66 L544.29 364.32 L544.37 265.17 L544.45 439.34 L544.54 279.22 L544.62 320.40 L544.70 281.94 L544.78 349.69 L544.87 272.49 L544.95 281.27 L545.03 307.82 L545.11 255.19 L545.19 295.18 L545.28 232.21 L545.36 301.39 L545.44 223.10 L545.52 238.62 L545.60 274.46 L545.68 292.93 L545.76 245.46 L545.85 275.05 L545.93 295.66 L546.01 331.34 L546.09 252.73 L546.17 269.22 L546.25 229.42 L546.33 271.71 L546.41 230.40 L546.49 277.02 L546.57 248.82 L546.65 251.69 L546.73 325.83 L546.81 259.38 L546.89 265.02 L546.97 301.14 L547.05 308.76 L547.13 288.05 L547.21 296.48 L547.29 307.92 L547.37 261.45 L547.45 386.39 L547.53 369.59 L547.61 362.11 L547.69 339.08 L547.76 350.28 L547.84 285.05 L547.92 275.77 L548.00 270.92 L548.08 228.28 L548.16 256.29 L548.24 290.09 L548.32 328.51 L548.39 229.19 L548.47 241.05 L548.55 300.64 L548.63 248.11 L548.71 242.17 L548.78 262.67 L548.86 259.16 L548.94 261.30 L549.02 236.00 L549.09 235.85 L549.17 250.08 L549.25 232.43 L549.33 214.13 L549.40 265.73 L549.48 249.46 L549.56 272.27 L549.63 268.35 L549.71 273.79 L549.79 291.83 L549.87 310.64 L549.94 293.74 L550.02 257.87 L550.09 243.61 L550.17 254.96 L550.25 250.05 L550.32 287.13 L550.40 272.50 L550.48 272.71 L550.55 238.00 L550.63 315.52 L550.70 285.81 L550.78 230.94 L550.86 222.89 L550.93 309.71 L551.01 244.93 L551.08 284.14 L551.16 324.22 L551.23 258.17 L551.31 216.84 L551.38 207.80 L551.46 285.88 L551.53 248.59 L551.61 319.86 L551.68 249.74 L551.76 242.39 L551.83 258.11 L551.91 232.56 L551.98 254.61 L552.06 256.42 L552.13 259.51 L552.20 206.32 L552.28 380.80 L552.35 251.61 L552.43 247.71 L552.50 303.60 L552.57 268.41 L552.65 341.73 L552.72 223.55 L552.80 261.96 L552.87 247.54 L552.94 257.85 L553.02 307.94 L553.09 237.57 L553.16 315.19 L553.24 255.32 L553.31 259.86 L553.38 224.03 L553.46 252.51 L553.53 400.67 L553.60 293.14 L553.67 248.98 L553.75 291.25 L553.82 278.61 L553.89 265.71 L553.96 217.97 L554.04 293.09 L554.11 253.10 L554.18 264.69 L554.25 253.24 L554.33 299.64 L554.40 281.54 L554.47 244.08 L554.54 251.60 L554.61 278.21 L554.69 240.05 L554.76 319.41 L554.83 227.92 L554.90 291.42 L554.97 292.48 L555.04 259.11 L555.12 240.05 L555.19 238.90 L555.26 227.79 L555.33 241.88 L555.40 271.73 L555.47 244.90 L555.54 228.58 L555.61 234.72 L555.68 288.35 L555.75 292.57 L555.82 310.54 L555.90 265.70 L555.97 240.29 L556.04 261.22 L556.11 217.84 L556.18 261.73 L556.25 257.56 L556.32 373.36 L556.39 431.55 L556.46 300.14 L556.53 298.33 L556.60 277.04 L556.67 267.67 L556.74 320.86 L556.81 365.43 L556.88 342.80 L556.95 225.35 L557.02 294.35 L557.09 205.73 L557.15 224.49 L557.22 321.52 L557.29 237.28 L557.36 272.38 L557.43 298.57 L557.50 257.02 L557.57 238.78 L557.64 307.79 L557.71 253.76 L557.78 234.60 L557.85 283.69 L557.91 267.84 L557.98 258.58 L558.05 296.03 L558.12 268.72 L558.19 235.27 L558.26 230.66 L558.32 266.89 L558.39 248.06 L558.46 206.32 L558.53 280.36 L558.60 245.42 L558.67 205.64 L558.73 222.16 L558.80 221.07 L558.87 299.69 L558.94 285.61 L559.00 246.19 L559.07 233.29 L559.14 236.16 L559.21 270.77 L559.27 216.34 L559.34 232.33 L559.41 322.43 L559.48 259.55 L559.54 235.02 L559.61 237.04 L559.68 211.22 L559.74 281.17 L559.81 293.93 L559.88 241.56 L559.94 180.38 L560.01 338.02 L560.08 279.75 L560.14 385.76 L560.21 243.66 L560.28 238.04 L560.34 267.48 L560.41 248.93 L560.48 243.66 L560.54 270.10 L560.61 228.97 L560.68 281.91 L560.74 307.59 L560.81 238.43 L560.87 274.79 L560.94 252.83 L561.00 230.83 L561.07 284.17 L561.14 220.24 L561.20 239.73 L561.27 270.77 L561.33 233.02 L561.40 209.41 L561.46 303.23 L561.53 269.51 L561.59 260.97 L561.66 252.24 L561.72 322.86 L561.79 245.30 L561.85 253.39 L561.92 284.98 L561.98 410.32 L562.05 226.12 L562.11 260.69 L562.18 338.87 L562.24 209.50 L562.31 225.08 L562.37 256.44 L562.44 347.33 L562.50 268.60 L562.57 250.47 L562.63 276.01 L562.70 228.76 L562.76 221.00 L562.82 361.69 L562.89 225.56 L562.95 249.75 L563.02 227.78 L563.08 280.46 L563.14 343.95 L563.21 226.96 L563.27 266.47 L563.34 244.17 L563.40 254.68 L563.46 247.62 L563.53 268.80 L563.59 214.85 L563.65 258.31 L563.72 210.93 L563.78 229.00 L563.84 236.77 L563.91 240.91 L563.97 260.40 L564.03 460.36 L564.10 219.02 L564.16 244.72 L564.22 266.14 L564.28 345.23 L564.35 215.10 L564.41 201.78 L564.47 274.15 L564.54 205.38 L564.60 250.08 L564.66 311.02 L564.72 195.04 L564.79 267.50 L564.85 258.13 L564.91 272.74 L564.97 275.02 L565.04 296.34 L565.10 266.55 L565.16 229.04 L565.22 264.76 L565.28 247.15 L565.35 253.13 L565.41 260.48 L565.47 215.10 L565.53 313.19 L565.59 282.31 L565.65 259.71 L565.72 255.48 L565.78 236.25 L565.84 218.48 L565.90 298.08 L565.96 228.32 L566.02 198.00 L566.09 219.52 L566.15 256.46 L566.21 219.12 L566.27 225.84 L566.33 225.49 L566.39 227.44 L566.45 329.24 L566.51 234.03 L566.57 237.68 L566.64 270.75 L566.70 286.20 L566.76 226.86 L566.82 268.28 L566.88 406.88 L566.94 272.96 L567.00 222.78" fill="none" stroke="#ff7f0e" stroke-opacity="0.3" stroke-width="1.04" stroke-linejoin="round" stroke-linecap="square"/>
<path d="M102.00 491.50 L131.47 543.00 L152.39 502.50 L168.61 680.00 L181.86 457.00 L193.06 546.00 L202.77 489.50 L211.33 517.00 L218.99 530.00 L225.92 511.60 L232.25 481.00 L238.06 406.00 L243.45 376.80 L248.47 361.00 L253.16 355.30 L256.40 389.10 L257.80 405.40 L261.90 411.50 L266.00 404.40 L270.10 440.20 L272.70 438.10 L276.20 399.30 L279.30 389.10 L282.30 389.10 L285.40 373.70 L288.50 369.60 L291.10 406.40 L295.60 399.30 L298.70 409.50 L301.40 410.50 L303.80 421.80 L307.90 398.30 L312.00 425.90 L317.10 407.50 L322.20 419.70 L326.30 436.10 L330.00 428.90 L333.40 445.30 L337.50 442.20 L341.20 422.70 L344.30 398.00 L347.40 373.60 L349.40 370.50 L351.50 355.20 L354.50 342.90 L358.60 351.10 L362.70 365.40 L365.80 345.00 L367.80 332.70 L370.90 337.80 L372.90 322.50 L376.00 313.30 L379.10 326.60 L383.10 349.10 L387.20 373.60 L389.30 416.60 L392.30 426.80 L395.40 430.90 L397.50 416.60 L400.50 428.80 L403.60 437.00 L407.70 417.60 L411.80 426.80 L416.90 436.00 L420.00 413.70 L424.10 420.90 L428.70 411.70 L431.20 419.90 L434.30 411.70 L436.90 416.80 L439.40 429.10 L442.00 434.20 L445.00 432.10 L447.60 427.00 L449.60 413.70 L452.70 406.60 L455.30 395.30 L457.30 384.10 L459.90 367.60 L462.10 369.80 L464.40 361.00 L467.70 374.30 L471.00 369.80 L475.00 382.00 L478.80 375.40 L481.00 378.70 L484.30 370.90 L488.70 367.60 L492.00 370.90 L497.60 356.50 L502.00 353.20 L506.00 361.00 L510.40 353.20 L515.30 359.90 L519.70 351.00 L523.70 344.40 L529.80 352.50 L533.80 362.70 L537.90 374.00 L541.00 383.20 L545.10 389.30 L548.20 393.40 L551.20 384.20 L556.30 374.00 L561.50 365.80 L564.50 359.70 L566.50 348.00 L570.00 335.00" fill="none" stroke="#1f77b4" stroke-width="4.17" stroke-linejoin="round" stroke-linecap="square"/>
<path d="M102.00 385.00 L131.47 593.00 L152.39 414.50 L168.61 352.00 L181.86 464.00 L193.06 401.30 L202.77 384.00 L211.33 456.80 L218.99 434.60 L225.92 443.20 L232.25 387.50 L238.06 333.70 L243.45 288.50 L248.47 286.20 L252.70 289.30 L257.20 297.30 L261.90 294.40 L266.60 285.20 L270.10 285.20 L272.70 272.90 L276.20 303.60 L279.30 293.40 L282.30 301.50 L285.80 287.20 L288.50 289.30 L291.10 271.90 L294.60 269.90 L299.20 259.30 L302.60 261.00 L305.50 272.00 L309.40 262.70 L313.60 265.20 L317.00 269.40 L319.50 292.30 L321.20 272.80 L324.60 283.80 L328.80 286.30 L331.30 299.50 L333.60 303.00 L334.30 316.00 L335.20 319.00 L338.30 330.00 L341.80 337.10 L344.80 345.60 L347.80 336.00 L350.20 322.00 L353.10 319.00 L356.00 309.50 L359.50 310.00 L362.00 306.50 L364.70 300.00 L367.30 287.50 L369.50 283.00 L371.60 276.70 L373.50 271.50 L375.00 266.40 L377.40 263.00 L380.10 284.30 L383.10 300.60 L386.20 314.80 L391.20 333.00 L395.30 345.20 L398.30 361.40 L401.50 367.50 L404.40 369.50 L408.50 357.40 L412.50 341.10 L416.60 335.00 L420.60 329.00 L424.70 335.00 L428.80 347.20 L432.80 333.00 L435.40 326.40 L439.50 323.00 L442.90 323.70 L446.30 302.00 L450.30 310.10 L457.10 296.60 L463.90 292.50 L465.90 281.70 L470.70 285.70 L474.70 281.70 L478.80 284.40 L483.50 290.50 L487.50 285.80 L491.20 276.60 L494.80 262.40 L498.30 248.30 L501.10 241.20 L504.70 236.30 L508.20 238.40 L512.50 242.60 L516.70 241.90 L520.20 243.30 L523.80 240.50 L527.30 246.90 L530.80 261.00 L535.10 275.20 L539.30 283.60 L543.60 282.90 L547.80 273.70 L552.10 263.80 L556.30 257.50 L560.50 253.20 L565.50 249.70 L570.00 246.00" fill="none" stroke="#ff7f0e" stroke-opacity="0.7" stroke-width="4.17" stroke-linejoin="round" stroke-linecap="square"/></g><g fill="#000"><rect x="101" y="45" width="2" height="464"/><rect x="566" y="45" width="2" height="464"/><rect x="101" y="45" width="467" height="2"/><rect x="101" y="507" width="467" height="2"/><rect x="95" y="99" width="7" height="2"/><rect x="95" y="157" width="7" height="2"/><rect x="95" y="214" width="7" height="2"/><rect x="95" y="272" width="7" height="2"/><rect x="95" y="330" width="7" height="2"/><rect x="95" y="388" width="7" height="2"/><rect x="95" y="445" width="7" height="2"/><rect x="95" y="503" width="7" height="2"/><rect x="218" y="508" width="2" height="7"/><rect x="385" y="508" width="2" height="7"/><rect x="553" y="508" width="2" height="7"/><rect x="101.38" y="508" width="1.25" height="4.5"/><rect x="130.85" y="508" width="1.25" height="4.5"/><rect x="151.76" y="508" width="1.25" height="4.5"/><rect x="167.98" y="508" width="1.25" height="4.5"/><rect x="181.23" y="508" width="1.25" height="4.5"/><rect x="192.44" y="508" width="1.25" height="4.5"/><rect x="202.15" y="508" width="1.25" height="4.5"/><rect x="210.71" y="508" width="1.25" height="4.5"/><rect x="268.75" y="508" width="1.25" height="4.5"/><rect x="298.23" y="508" width="1.25" height="4.5"/><rect x="319.14" y="508" width="1.25" height="4.5"/><rect x="335.36" y="508" width="1.25" height="4.5"/><rect x="348.61" y="508" width="1.25" height="4.5"/><rect x="359.82" y="508" width="1.25" height="4.5"/><rect x="369.52" y="508" width="1.25" height="4.5"/><rect x="378.09" y="508" width="1.25" height="4.5"/><rect x="436.13" y="508" width="1.25" height="4.5"/><rect x="465.60" y="508" width="1.25" height="4.5"/><rect x="486.52" y="508" width="1.25" height="4.5"/><rect x="502.74" y="508" width="1.25" height="4.5"/><rect x="515.99" y="508" width="1.25" height="4.5"/><rect x="527.19" y="508" width="1.25" height="4.5"/><rect x="536.90" y="508" width="1.25" height="4.5"/><rect x="545.46" y="508" width="1.25" height="4.5"/></g><text x="203.80" y="34.00" font-size="26.10" textLength="262.00" lengthAdjust="spacingAndGlyphs">Magnitude Spectrum</text><text x="61.20" y="107.90" font-size="22.60" textLength="25.60" lengthAdjust="spacingAndGlyphs">20</text><text x="61.20" y="165.90" font-size="22.60" textLength="25.60" lengthAdjust="spacingAndGlyphs">15</text><text x="61.20" y="222.90" font-size="22.60" textLength="25.60" lengthAdjust="spacingAndGlyphs">10</text><text x="74.00" y="280.90" font-size="22.60" textLength="12.80" lengthAdjust="spacingAndGlyphs">5</text><text x="74.00" y="338.90" font-size="22.60" textLength="12.80" lengthAdjust="spacingAndGlyphs">0</text><text x="57.40" y="396.90" font-size="22.60" textLength="29.40" lengthAdjust="spacingAndGlyphs">−5</text><text x="44.60" y="453.90" font-size="22.60" textLength="42.20" lengthAdjust="spacingAndGlyphs">−10</text><text x="44.60" y="511.90" font-size="22.60" textLength="42.20" lengthAdjust="spacingAndGlyphs">−15</text><text x="202.39" y="542.90" font-size="22.60" textLength="26.00" lengthAdjust="spacingAndGlyphs">10</text><text x="228.79" y="534.80" font-size="16.00" textLength="8.20" lengthAdjust="spacingAndGlyphs">2</text><text x="369.77" y="542.90" font-size="22.60" textLength="26.00" lengthAdjust="spacingAndGlyphs">10</text><text x="396.17" y="534.80" font-size="16.00" textLength="8.20" lengthAdjust="spacingAndGlyphs">3</text><text x="537.15" y="542.90" font-size="22.60" textLength="26.00" lengthAdjust="spacingAndGlyphs">10</text><text x="563.55" y="534.80" font-size="16.00" textLength="8.20" lengthAdjust="spacingAndGlyphs">4</text><text x="259.00" y="572.80" font-size="22.50" textLength="150.30" lengthAdjust="spacingAndGlyphs">Frequency(Hz)</text><text transform="translate(32,357.8) rotate(-90)" font-size="22.5" textLength="153.7" lengthAdjust="spacingAndGlyphs">Magnitude(dB)</text><rect x="302.2" y="55.8" width="255" height="66.9" rx="4" ry="4" fill="#fff" fill-opacity="0.8" stroke="#d6d6d6" stroke-width="2.08"/><line x1="309.8" y1="72.8" x2="351.6" y2="72.8" stroke="#1f77b4" stroke-width="4.17" stroke-linecap="square"/><line x1="309.8" y1="103.8" x2="351.6" y2="103.8" stroke="#ff7f0e" stroke-opacity="0.7" stroke-width="4.17" stroke-linecap="square"/><text x="367.70" y="80.80" font-size="22.50" textLength="179.70" lengthAdjust="spacingAndGlyphs">Pred. (smoothed)</text><text x="367.70" y="111.80" font-size="22.50" textLength="155.70" lengthAdjust="spacingAndGlyphs">GT (smoothed)</text></svg></body></html>
